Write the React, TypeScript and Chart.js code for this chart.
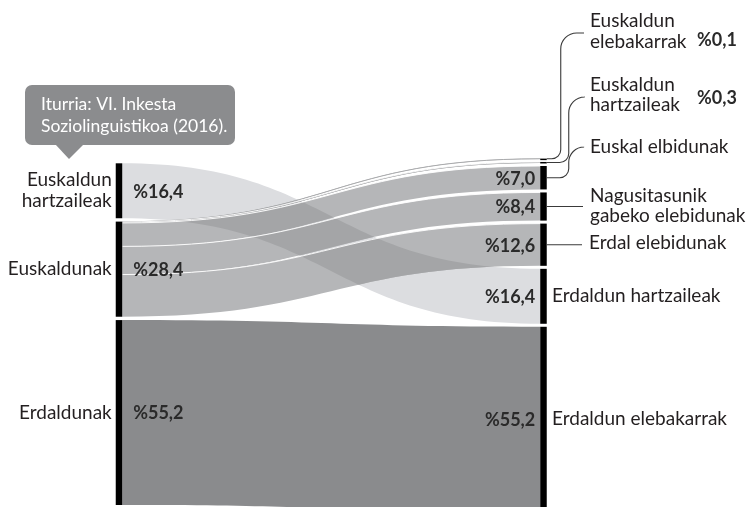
import React, { useEffect, useRef } from 'react';
import { Chart, registerables } from 'chart.js';

Chart.register(...registerables);

// ---------------- data ----------------
const leftNodes = ['Euskaldun\nhartzaileak', 'Euskaldunak', 'Erdaldunak'];
const leftValues = [16.4, 28.4, 55.2];
const leftValueLabels = ['%16,4', '%28,4', '%55,2'];

const rightNodes = [
  'Euskaldun\nelebakarrak',
  'Euskaldun\nhartzaileak',
  'Euskal elbidunak',
  'Nagusitasunik\ngabeko elebidunak',
  'Erdal elebidunak',
  'Erdaldun hartzaileak',
  'Erdaldun elebakarrak',
];
const rightValues = [0.1, 0.3, 7.0, 8.4, 12.6, 16.4, 55.2];
const rightValueLabels = ['%0,1', '%0,3', '%7,0', '%8,4', '%12,6', '%16,4', '%55,2'];

const flowFrom = [0, 1, 1, 1, 1, 1, 2];
const flowTo = [5, 0, 1, 2, 3, 4, 6];
const flowValues = [16.4, 0.1, 0.3, 7.0, 8.4, 12.6, 55.2];

const sourceNote = ['Iturria: VI. Inkesta', 'Soziolinguistikoa (2016).'];

// ---------------- style ----------------
const GAP_L = 1.0;
const GAP_R = 0.9;
const LEFT_BASE = 0;
const RIGHT_BASE = -2.0;
const NODE_W = 6.5;
const FONT = 'Lato, "Open Sans", sans-serif';
const TEXT = '#231f20';
const LABEL_PX = 19;
const VALUE_PX = 18;
const SOURCE_COLORS = ['#dcdde0', '#b5b6b8', '#8a8b8d'];
const OVERLAP_COLOR = '#a4a5a7';
const RIGHT_LABEL = [
  { x: 590, lines: [21, 42], conn: 'curve', connY: 33, vx: 697, vy: 40 },
  { x: 590, lines: [85, 105], conn: 'curve', connY: 97, vx: 697, vy: 98 },
  { x: 590, lines: [147], conn: 'curve', connY: 147 },
  { x: 590, lines: [196, 216], conn: 'line' },
  { x: 589, lines: [243], conn: 'line' },
  { x: 552, lines: null, conn: 'none' },
  { x: 552, lines: null, conn: 'none' },
];

const sankeyPlugin = {
  id: 'sankeyDraw',
  afterDraw(chart: any) {
    const ctx: CanvasRenderingContext2D = chart.ctx;
    const xs = chart.scales.x;
    const ys = chart.scales.y;

    const sum = (a: number[]) => a.reduce((s, v) => s + v, 0);
    const leftTop: number[] = [];
    let c = LEFT_BASE + sum(leftValues) + GAP_L * (leftValues.length - 1);
    leftValues.forEach((v) => { leftTop.push(c); c -= v + GAP_L; });
    const rightTop: number[] = [];
    c = RIGHT_BASE + sum(rightValues) + GAP_R * (rightValues.length - 1);
    rightValues.forEach((v) => { rightTop.push(c); c -= v + GAP_R; });

    const xL = xs.getPixelForValue(0);
    const xR = xs.getPixelForValue(1);
    const x0 = xL + NODE_W / 2;
    const x1 = xR - NODE_W / 2;
    const xm = (x0 + x1) / 2;

    const lc = leftTop.slice();
    const rc = rightTop.slice();
    const flows = flowValues.map((v, i) => {
      const f = flowFrom[i];
      const t = flowTo[i];
      const a0 = ys.getPixelForValue(lc[f]);
      const a1 = ys.getPixelForValue(lc[f] - v);
      const b0 = ys.getPixelForValue(rc[t]);
      const b1 = ys.getPixelForValue(rc[t] - v);
      lc[f] -= v;
      rc[t] -= v;
      return { f, t, v, a0, a1, b0, b1 };
    });

    const flowPath = (fl: any) => {
      const p = new Path2D();
      p.moveTo(x0, fl.a0);
      p.bezierCurveTo(xm, fl.a0, xm, fl.b0, x1, fl.b0);
      p.lineTo(x1, fl.b1);
      p.bezierCurveTo(xm, fl.b1, xm, fl.a1, x0, fl.a1);
      p.closePath();
      return p;
    };
    const thinLine = (fl: any, color: string) => {
      const am = (fl.a0 + fl.a1) / 2;
      const bm = (fl.b0 + fl.b1) / 2;
      ctx.strokeStyle = color;
      ctx.lineWidth = 1;
      ctx.beginPath();
      ctx.moveTo(x0, am);
      ctx.bezierCurveTo(xm, am, xm, bm, x1, bm);
      ctx.stroke();
    };

    ctx.save();
    flows.forEach((fl) => {
      ctx.fillStyle = SOURCE_COLORS[fl.f];
      ctx.fill(flowPath(fl));
      if (fl.a1 - fl.a0 < 1.5) thinLine(fl, '#a9aaac');
    });
    // overlap of the crossing flows
    ctx.save();
    flows.forEach((fl) => {
      if (fl.f !== 0) return;
      ctx.clip(flowPath(fl));
    });
    flows.forEach((fl) => {
      if (fl.f !== 1) return;
      ctx.fillStyle = OVERLAP_COLOR;
      ctx.fill(flowPath(fl));
    });
    ctx.restore();

    flows.forEach((fl, i) => {
      if (fl.f !== 1) return;
      if (i > 0 && flowFrom[i - 1] === 1) {
        ctx.strokeStyle = '#ffffff';
        ctx.lineWidth = 0.9;
        ctx.beginPath();
        ctx.moveTo(x0, fl.a0);
        ctx.bezierCurveTo(xm, fl.a0, xm, fl.b0, x1, fl.b0);
        ctx.stroke();
      }
    });

    ctx.fillStyle = '#000000';
    leftValues.forEach((v, i) => {
      const t = ys.getPixelForValue(leftTop[i]);
      const b = ys.getPixelForValue(leftTop[i] - v);
      ctx.fillRect(xL - NODE_W / 2, t, NODE_W, Math.max(1.5, b - t));
    });
    rightValues.forEach((v, i) => {
      const t = ys.getPixelForValue(rightTop[i]);
      const b = ys.getPixelForValue(rightTop[i] - v);
      ctx.fillRect(xR - NODE_W / 2, t, NODE_W, Math.max(1.5, b - t));
    });

    ctx.textBaseline = 'middle';
    leftNodes.forEach((name, i) => {
      const cy = (ys.getPixelForValue(leftTop[i]) + ys.getPixelForValue(leftTop[i] - leftValues[i])) / 2;
      const lines = name.split('\n');
      ctx.fillStyle = TEXT;
      ctx.font = `${LABEL_PX}px ${FONT}`;
      ctx.textAlign = 'right';
      lines.forEach((ln, k) => {
        ctx.fillText(ln, xL - NODE_W / 2 - 4, cy + (k - (lines.length - 1) / 2) * 21);
      });
      ctx.font = `bold ${VALUE_PX}px ${FONT}`;
      ctx.textAlign = 'left';
      ctx.fillStyle = '#2a2a2a';
      ctx.fillText(leftValueLabels[i], xL + NODE_W / 2 + 11, cy + 1);
    });

    rightNodes.forEach((name, i) => {
      const t = ys.getPixelForValue(rightTop[i]);
      const b = ys.getPixelForValue(rightTop[i] - rightValues[i]);
      let cy = (t + b) / 2;
      if (b > chart.height) cy = (t + chart.height) / 2 + 2;
      const cfg: any = RIGHT_LABEL[i];
      const lines = name.split('\n');
      ctx.fillStyle = TEXT;
      ctx.font = `${LABEL_PX}px ${FONT}`;
      ctx.textAlign = 'left';
      lines.forEach((ln, k) => {
        const y = cfg.lines ? cfg.lines[k] : cy + (k - (lines.length - 1) / 2) * 20;
        ctx.fillText(ln, cfg.x, y);
      });
      ctx.font = `bold ${VALUE_PX}px ${FONT}`;
      ctx.fillStyle = '#2a2a2a';
      if (cfg.vx) {
        ctx.textAlign = 'left';
        ctx.fillText(rightValueLabels[i], cfg.vx, cfg.vy);
      } else {
        ctx.textAlign = 'right';
        ctx.fillText(rightValueLabels[i], xR - NODE_W / 2 - 5, cy + 1);
      }
      const sx = xR + NODE_W / 2;
      ctx.strokeStyle = '#3a3a3a';
      ctx.lineWidth = 1.1;
      if (cfg.conn === 'line') {
        ctx.beginPath();
        ctx.moveTo(sx, cy);
        ctx.lineTo(cfg.x - 7, cy);
        ctx.stroke();
      } else if (cfg.conn === 'curve') {
        const ex = cfg.x - 6;
        const ey = cfg.connY;
        const vx = i === 0 ? sx + 14 : sx + 22;
        const dy = Math.abs(cy - ey);
        const r1 = Math.min(9, dy / 2);
        const r2 = Math.min(16, dy / 2);
        ctx.beginPath();
        ctx.moveTo(sx, cy);
        ctx.arcTo(vx, cy, vx, ey, r1);
        ctx.arcTo(vx, ey, ex, ey, r2);
        ctx.lineTo(ex, ey);
        ctx.stroke();
      }
    });

    ctx.fillStyle = '#8b8c8e';
    ctx.beginPath();
    ctx.roundRect(25, 85, 210, 60, 7);
    ctx.fill();
    ctx.beginPath();
    ctx.moveTo(55, 144);
    ctx.lineTo(84, 144);
    ctx.lineTo(69, 159);
    ctx.closePath();
    ctx.fill();
    ctx.fillStyle = '#ffffff';
    ctx.font = `17.5px ${FONT}`;
    ctx.textAlign = 'left';
    ctx.fillText(sourceNote[0], 41, 104);
    ctx.fillText(sourceNote[1], 41, 126);
    ctx.restore();
  },
};

export default function App() {
  const ref = useRef<HTMLCanvasElement | null>(null);
  useEffect(() => {
    if (!ref.current) return;
    const chart = new Chart(ref.current, {
      type: 'scatter',
      data: { datasets: [{ data: [] }] },
      options: {
        animation: false,
        responsive: true,
        maintainAspectRatio: false,
        layout: { padding: { top: 0, left: 0, right: 0, bottom: 2 } },
        plugins: { legend: { display: false }, tooltip: { enabled: false } },
        scales: {
          x: { type: 'linear', min: -0.2803, max: 1.4959, display: false },
          y: { type: 'linear', min: 0, max: 150.75, display: false },
        },
      },
      plugins: [sankeyPlugin],
    });
    return () => chart.destroy();
  }, []);
  return (
    <div style={{ position: 'fixed', left: 0, top: 0, width: 754, height: 507, background: '#fff' }}>
      <canvas ref={ref} />
    </div>
  );
}
